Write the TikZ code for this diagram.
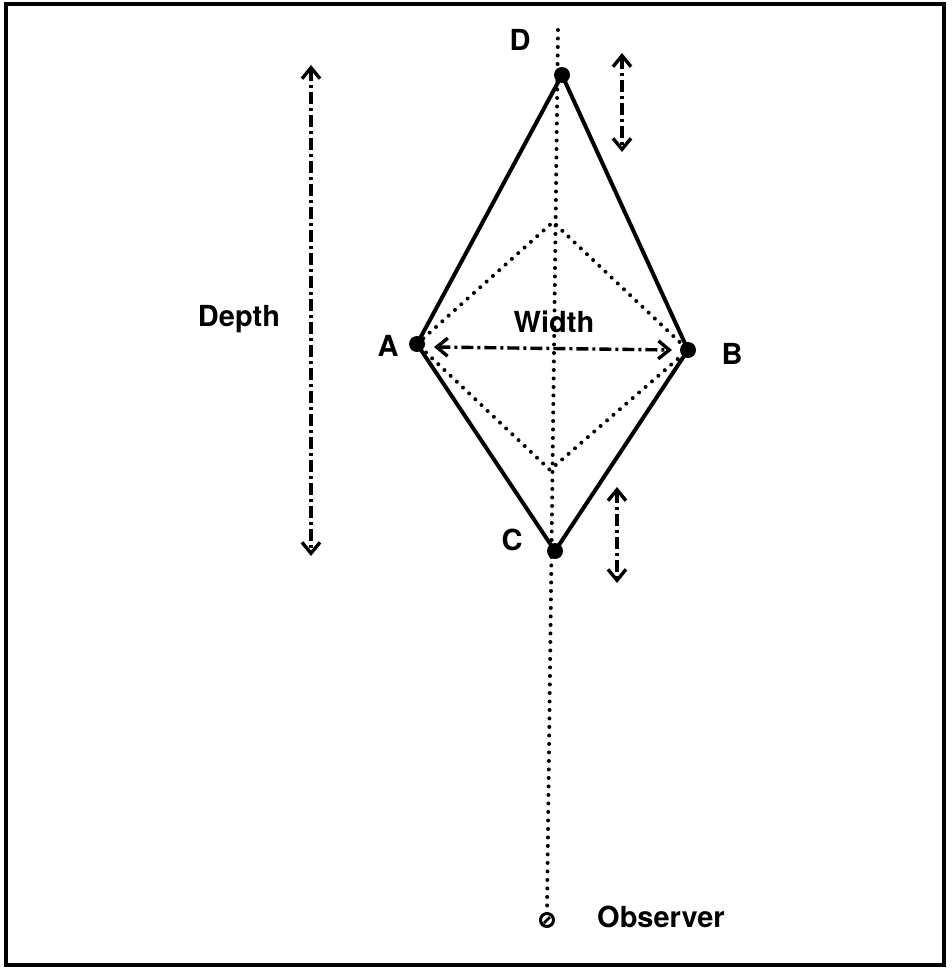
\documentclass[tikz,border=0pt]{standalone}
\usepackage{fontspec}
\setmainfont{TeX Gyre Heros}
\usetikzlibrary{arrows.meta,calc}
\begin{document}
\begin{tikzpicture}[x=1pt,y=-1pt,
  solidline/.style={line width=4pt},
  dotline/.style={line width=4pt,line cap=round,dash pattern=on 0pt off 8.5pt},
  dimarrow/.style={line width=3.4pt,dash pattern=on 12pt off 4pt on 3pt off 4pt,{Straight Barb[length=11pt,width=18pt,line width=3.4pt]}-{Straight Barb[length=11pt,width=18pt,line width=3.4pt]}},
  dot/.style={circle,fill=black,inner sep=0pt,minimum size=16pt},
  lbl/.style={font=\fontsize{29}{33}\selectfont\bfseries,inner sep=0pt}]
\useasboundingbox (0,0) rectangle (951,969);
\fill[white] (0,0) rectangle (951,969);
\draw[line width=4pt] (6,4) rectangle (944,965);
% points
\coordinate (D) at (562,75);
\coordinate (A) at (417,344);
\coordinate (B) at (688,350);
\coordinate (C) at (555,551);
\coordinate (T) at (553,222);
\coordinate (U) at (550,470);
\coordinate (top) at (558,30);
\node[circle,draw,line width=3pt,minimum size=13pt,inner sep=0pt] (O) at (547,920) {};
\draw[line width=2.6pt] ($(O)+(-3,3)$) -- ($(O)+(3,-3)$);
% outer diamond
\draw[solidline,line join=round] (D) -- (B) -- (C) -- (A) -- cycle;
% inner dotted diamond
\draw[dotline] (A) -- (T) -- (B) -- (U) -- (A);
% vertical dotted line
\draw[dotline] (top) -- (O.north);
% dots
\node[dot] (nD) at (D) {};
\node[dot] (nA) at (A) {};
\node[dot] (nB) at (B) {};
\node[dot] (nC) at (C) {};
% arrows
\coordinate (dp1) at (311,65);
\coordinate (dp2) at (311,556);
\draw[dimarrow] (dp1) -- (dp2);
\coordinate (w1) at (434,347);
\coordinate (w2) at (672,350);
\draw[dimarrow] (w1) -- (w2);
\coordinate (d1) at (622,53);
\coordinate (d2) at (622,152);
\draw[dimarrow] (d1) -- (d2);
\coordinate (c1) at (617,487);
\coordinate (c2) at (617,583);
\draw[dimarrow] (c1) -- (c2);
% labels
\node[lbl] (lD) at (520,40) {D};
\node[lbl] (lA) at (388,346) {A};
\node[lbl] (lB) at (732,354) {B};
\node[lbl] (lC) at (512,540) {C};
\node[lbl] (lW) at (554,322) {Width};
\node[lbl] (lDepth) at (239,319) {Depth};
\node[lbl,anchor=west] (lO) at (597,917) {Observer};
\end{tikzpicture}
\end{document}
